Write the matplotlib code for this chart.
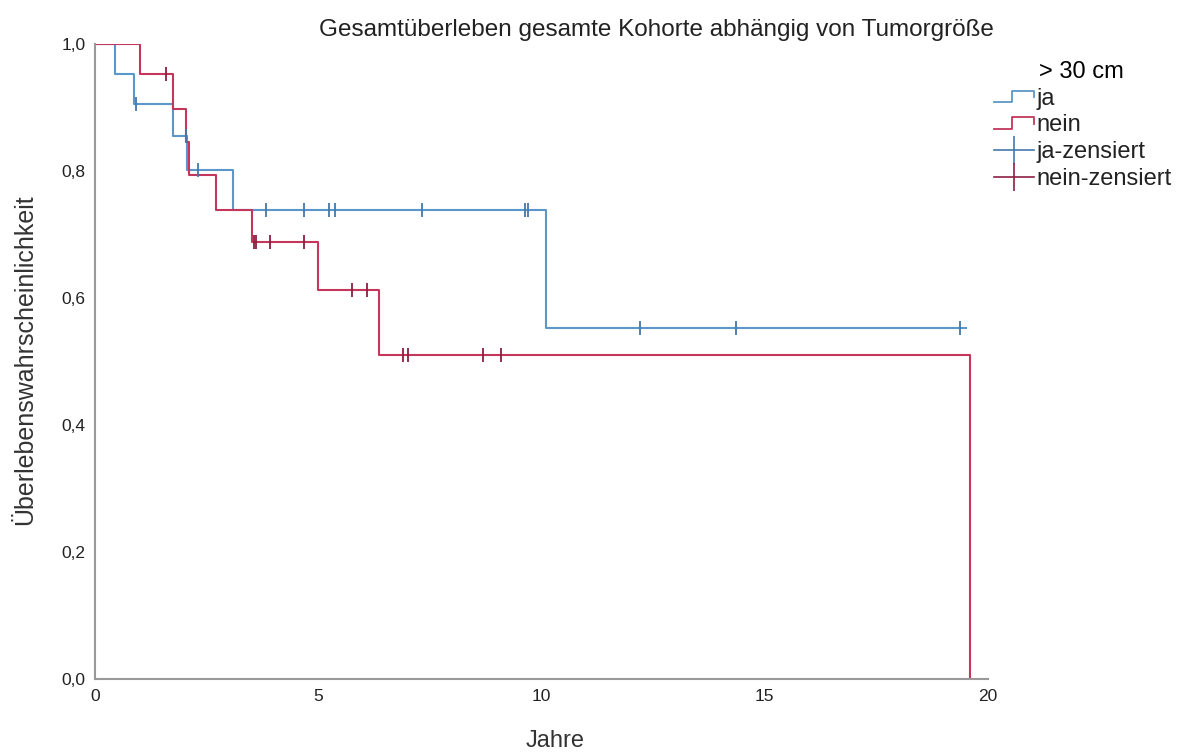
import numpy as np
import matplotlib
matplotlib.use("Agg")
import matplotlib.pyplot as plt
from matplotlib.lines import Line2D
from matplotlib.legend_handler import HandlerBase

plt.rcParams['font.family'] = ['Liberation Sans', 'DejaVu Sans']

# ja (> 30 cm): step times and survival after each step
ja_t = [0.0, 0.45, 0.87, 1.75, 2.05, 3.1, 10.1]
ja_s = [1.0, 0.952, 0.905, 0.855, 0.801, 0.739, 0.553]
ja_end = 19.5
ja_cens = [0.92, 2.04, 2.3, 3.83, 4.67, 5.25, 5.38, 7.33, 9.62, 9.69, 12.2, 14.35, 19.37]

# nein
nein_t = [0.0, 1.0, 1.75, 2.04, 2.1, 2.7, 3.52, 5.0, 6.37, 19.6]
nein_s = [1.0, 0.952, 0.898, 0.845, 0.794, 0.739, 0.688, 0.612, 0.510, 0.0]
nein_end = 19.6
nein_cens = [1.6, 3.55, 3.6, 3.92, 4.69, 5.76, 6.1, 6.9, 7.0, 8.68, 9.1]

blue = '#5b97c8'
red = '#c4365c'
blue_c = '#4478ab'
red_c = '#8c1f42'


def surv_at(t, times, surv):
    idx = np.searchsorted(times, t, side='right') - 1
    return np.array(surv)[idx]


fig = plt.figure(figsize=(11.84, 7.54), dpi=100)
ax = fig.add_axes([95 / 1184, 1 - 679 / 754, 893 / 1184, 635 / 754])

ax.step(ja_t + [ja_end], ja_s + [ja_s[-1]], where='post', color=blue, lw=1.5)
ax.step(nein_t + [nein_end], nein_s + [nein_s[-1]], where='post', color=red, lw=1.5)
ax.plot(ja_cens, surv_at(ja_cens, ja_t, ja_s), ls='none', marker='|', ms=10,
        mew=1.3, color=blue_c)
ax.plot(nein_cens, surv_at(nein_cens, nein_t, nein_s), ls='none', marker='|', ms=10,
        mew=1.3, color=red_c)

ax.set_xlim(0, 20)
ax.set_ylim(0, 1)
ax.set_xticks([0, 5, 10, 15, 20])
ax.set_yticks([0, 0.2, 0.4, 0.6, 0.8, 1.0])
ax.set_yticklabels(['0,0', '0,2', '0,4', '0,6', '0,8', '1,0'])
ax.tick_params(length=0, labelsize=12.5, colors='#222222', pad=7)
for s in ['top', 'right']:
    ax.spines[s].set_visible(False)
for s in ['left', 'bottom']:
    ax.spines[s].set_color('#999999')
    ax.spines[s].set_linewidth(1.5)

fig.text(555 / 1184, 1 - 741 / 754, 'Jahre', ha='center', va='center',
         fontsize=17, color='#333333')
fig.text(25 / 1184, 1 - 360 / 754, 'Überlebenswahrscheinlichkeit', ha='center',
         va='center', rotation=90, fontsize=18, color='#333333')
fig.text(656 / 1184, 1 - 30 / 754, 'Gesamtüberleben gesamte Kohorte abhängig von Tumorgröße',
         ha='center', va='center', fontsize=17.5, color='#222222')


class StepHandler(HandlerBase):
    def create_artists(self, legend, orig, xd, yd, w, h, fontsize, trans):
        xs = [xd, xd + w * 0.45, xd + w * 0.45, xd + w, xd + w]
        ys = [yd + h * 0.15, yd + h * 0.15, yd + h * 0.85, yd + h * 0.85, yd + h * 0.45]
        ln = Line2D(xs, ys, color=orig.get_color(), lw=1.3, transform=trans)
        return [ln]


h_ja = Line2D([], [], color=blue)
h_nein = Line2D([], [], color=red)
h_jac = Line2D([], [], color=blue_c, marker='|', ms=20, mew=1.2, lw=1.2)
h_neinc = Line2D([], [], color=red_c, marker='|', ms=20, mew=1.2, lw=1.2)
leg = fig.legend([h_ja, h_nein, h_jac, h_neinc], ['ja', 'nein', 'ja-zensiert', 'nein-zensiert'],
                 handler_map={h_ja: StepHandler(), h_nein: StepHandler()},
                 loc='upper left', bbox_to_anchor=(975 / 1184, 1 - 42 / 754),
                 title='> 30 cm', frameon=False, fontsize=17, title_fontsize=17,
                 handlelength=1.7, handletextpad=0.1, labelspacing=0.2, borderpad=0.3)
leg._legend_box.align = 'left'
leg.get_title().set_position((45, 0))
for t in leg.get_texts():
    t.set_color('#222222')

fig.savefig('out.png', dpi=100, facecolor='white')
